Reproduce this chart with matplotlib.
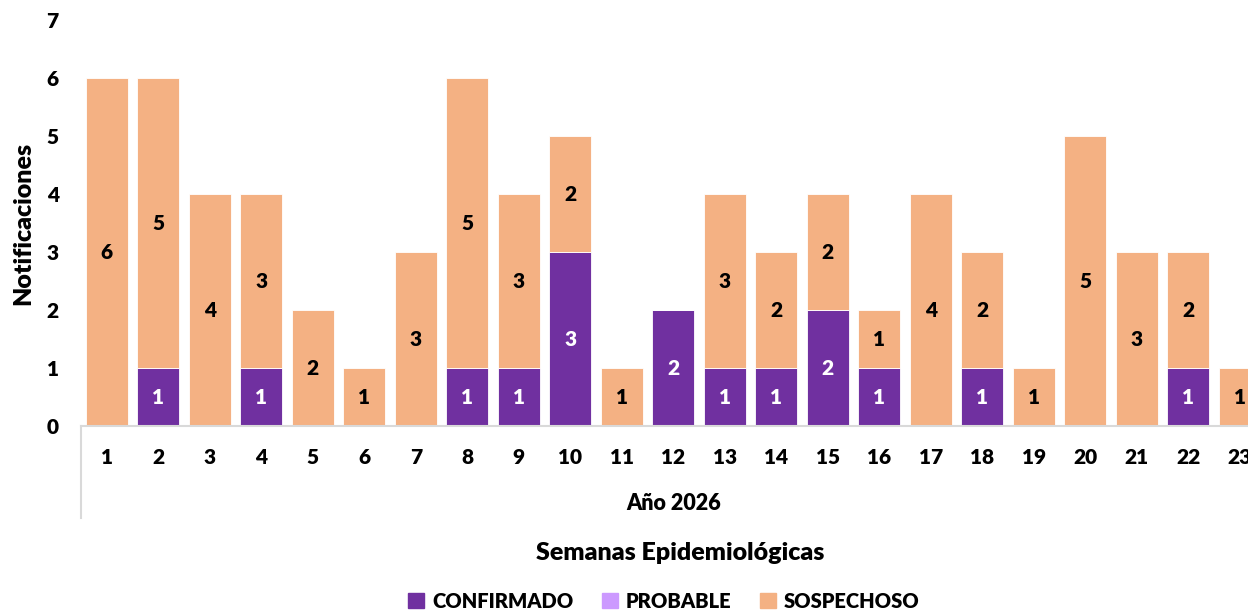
import matplotlib
matplotlib.use("Agg")
from matplotlib import pyplot as plt
from matplotlib.lines import Line2D
import matplotlib.patches as patches
import numpy as np

plt.rcParams.update({'font.family': ['Lato', 'DejaVu Sans'], 'font.weight': 'bold'})

semanas = [str(i) for i in range(1, 24)]
confirmado = [0, 1, 0, 1, 0, 0, 0, 1, 1, 3, 0, 2, 1, 1, 2, 1, 0, 1, 0, 0, 0, 1, 0]
probable = [0] * 23
sospechoso = [6, 5, 4, 3, 2, 1, 3, 5, 3, 2, 1, 0, 3, 2, 2, 1, 4, 2, 1, 5, 3, 2, 1]

c_conf = "#7030A0"
c_prob = "#CC99FF"
c_sosp = "#F4B183"
grid_gray = "#D9D9D9"
fw = "heavy"

fig = plt.figure(figsize=(12.48, 6.12), dpi=100)
ax = fig.add_axes([81/1248, 186/612, 1167/1248, 406/612])

x = np.arange(1, len(semanas) + 1)
conf = np.array(confirmado)
prob = np.array(probable)
sosp = np.array(sospechoso)

ax.bar(x, conf, width=0.82, color=c_conf, edgecolor="white", linewidth=0.6)
ax.bar(x, prob, width=0.82, bottom=conf, color=c_prob, edgecolor="white", linewidth=0.6)
ax.bar(x, sosp, width=0.82, bottom=conf + prob, color=c_sosp, edgecolor="white", linewidth=0.6)

# value labels inside the segments
for i in range(len(x)):
    if conf[i] > 0:
        ax.text(x[i], conf[i] / 2, str(conf[i]), ha="center", va="center",
                color="white", fontsize=15, fontweight=fw)
    if sosp[i] > 0:
        ax.text(x[i], conf[i] + prob[i] + sosp[i] / 2, str(sosp[i]), ha="center", va="center",
                color="black", fontsize=15, fontweight=fw, clip_on=True)

ax.set_xlim(0.5, 23.16)
ax.set_ylim(0, 7)
ax.set_yticks(range(0, 8))
ax.set_yticklabels([str(v) for v in range(0, 8)], fontsize=15, fontweight=fw)
ax.tick_params(axis="y", length=0, pad=16)
ax.set_xticks([])

for s in ["top", "right", "left"]:
    ax.spines[s].set_visible(False)
ax.spines["bottom"].set_color(grid_gray)
ax.spines["bottom"].set_linewidth(1.5)

# category labels (two level axis)
tr = ax.get_xaxis_transform()
for i, lab in enumerate(semanas):
    ax.text(x[i], -31/406, lab, transform=tr, ha="center", va="center",
            fontsize=15, fontweight=fw, clip_on=False)
ax.text(12, -77/406, "Año 2026", transform=tr, ha="center", va="center",
        fontsize=15.5, fontweight=fw)
ax.add_line(Line2D([0, 0], [0, -92/406], transform=ax.transAxes, color=grid_gray,
                   linewidth=1.5, clip_on=False))

ax.set_ylabel("Notificaciones", fontsize=18, fontweight=fw, labelpad=9)

fig.text(680/1248, 1 - 553/612, "Semanas Epidemiológicas", ha="center", va="center",
         fontsize=18, fontweight=fw)

handles = [patches.Patch(color=c_conf, label="CONFIRMADO"),
           patches.Patch(color=c_prob, label="PROBABLE"),
           patches.Patch(color=c_sosp, label="SOSPECHOSO")]
fig.legend(handles=handles, loc="center", bbox_to_anchor=(664/1248, 1 - 601/612), ncol=3,
           frameon=False, prop={'size': 14.5, 'weight': fw}, handlelength=0.8,
           handleheight=0.8, handletextpad=0.4, columnspacing=1.4)

fig.savefig("out.png", dpi=100)
